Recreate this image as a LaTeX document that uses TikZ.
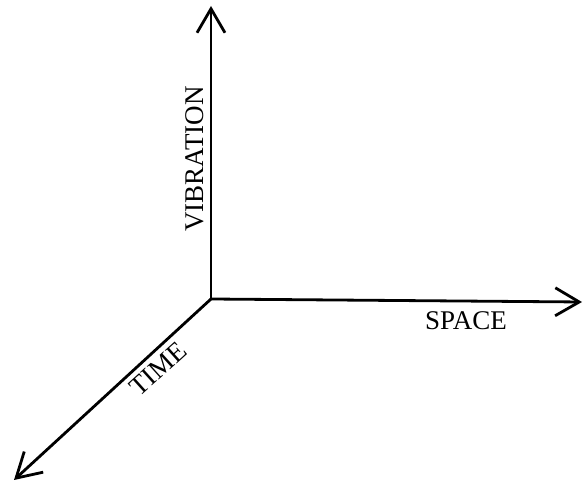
\documentclass[tikz,border=0pt]{standalone}
\usepackage{fontspec}
\setmainfont{Liberation Serif}
\usetikzlibrary{arrows.meta}
\begin{document}
\begin{tikzpicture}[x=1pt,y=1pt,
  axis/.style={line width=2.8pt,-{Straight Barb[length=24pt,width=28pt]}},
  lbl/.style={font=\fontsize{27}{31}\selectfont,inner sep=0pt}]
\useasboundingbox (0,0) rectangle (587,482);
\coordinate (O) at (211,183);
\coordinate (top) at (211,476);
\coordinate (right) at (582,180);
\coordinate (bl) at (14,2);
\draw[axis] (O) -- (top);
\draw[axis] (O) -- (right);
\draw[axis] (O) -- (bl);
\node[lbl,rotate=90] (vib) at (195,323) {VIBRATION};
\node[lbl] (space) at (466,161.5) {SPACE};
\node[lbl,rotate=42] (time) at (158,113) {TIME};
\end{tikzpicture}
\end{document}
